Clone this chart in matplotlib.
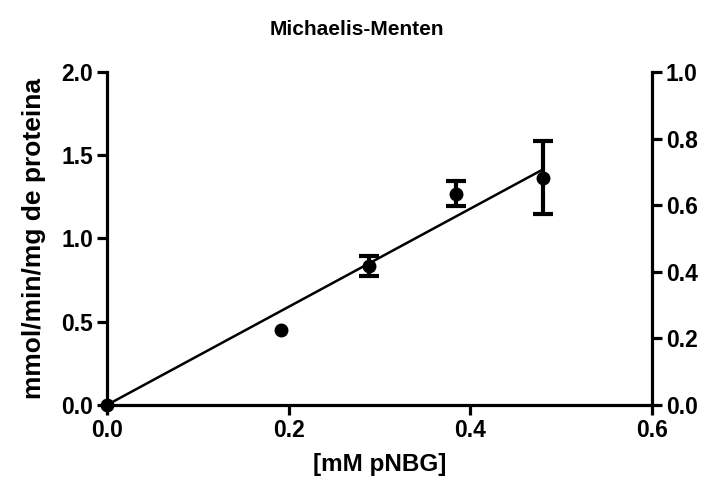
import matplotlib
matplotlib.use('Agg')
import matplotlib.pyplot as plt
import numpy as np

# 数据
conc = [0.0, 0.192, 0.288, 0.384, 0.48]
rate = [0.0, 0.45, 0.835, 1.27, 1.365]
rate_err = [0.0, 0.0, 0.06, 0.075, 0.22]
fit_x = [0.0, 0.48]
fit_y = [0.0, 1.415]

left_ticks = [0.0, 0.5, 1.0, 1.5, 2.0]
right_ticks = [0.0, 0.2, 0.4, 0.6, 0.8, 1.0]
x_ticks = [0.0, 0.2, 0.4, 0.6]

plt.rcParams['font.family'] = ['Liberation Sans', 'DejaVu Sans']
plt.rcParams['font.weight'] = 'bold'

fig = plt.figure(figsize=(7.07, 4.82), dpi=100)
ax = fig.add_axes([0.1513, 0.1598, 0.7709, 0.6908])

ax.plot(fit_x, fit_y, color='black', linewidth=1.8, clip_on=False, zorder=3)
ax.plot(conc, rate, 'o', color='black', markersize=9, clip_on=False, zorder=4)

# 只给有误差的点画误差棒
x_arr, y_arr, e_arr = np.array(conc), np.array(rate), np.array(rate_err)
has_err = e_arr > 0
ax.errorbar(x_arr[has_err], y_arr[has_err], yerr=e_arr[has_err], fmt='none',
            ecolor='black', elinewidth=3, capsize=7, capthick=3, clip_on=False, zorder=4)

ax.set_xlim(0, 0.6)
ax.set_ylim(0, 2.0)
ax.set_xticks(x_ticks)
ax.set_yticks(left_ticks)
ax.set_xticklabels([f'{t:.1f}' for t in x_ticks])
ax.set_yticklabels([f'{t:.1f}' for t in left_ticks])

ax2 = ax.twinx()
ax2.set_ylim(0, 1.0)
ax2.set_yticks(right_ticks)
ax2.set_yticklabels([f'{t:.1f}' for t in right_ticks])

for a in (ax, ax2):
    a.spines['top'].set_visible(False)
    for s in ('left', 'right', 'bottom'):
        a.spines[s].set_linewidth(2.3)
    a.tick_params(width=2.3, length=7, labelsize=16.5, direction='out', pad=3)
ax.spines['right'].set_visible(False)
ax2.spines['left'].set_visible(False)
ax2.spines['bottom'].set_visible(False)

ax.set_xlabel('[mM pNBG]', fontsize=17.5, fontweight='bold', labelpad=8)
ax.set_ylabel('mmol/min/mg de proteina', fontsize=19, fontweight='bold', labelpad=11)
fig.text(0.505, 0.938, 'Michaelis-Menten', fontsize=15, fontweight='bold',
         ha='center', va='center')

fig.savefig('out.png', dpi=100, facecolor='white')
